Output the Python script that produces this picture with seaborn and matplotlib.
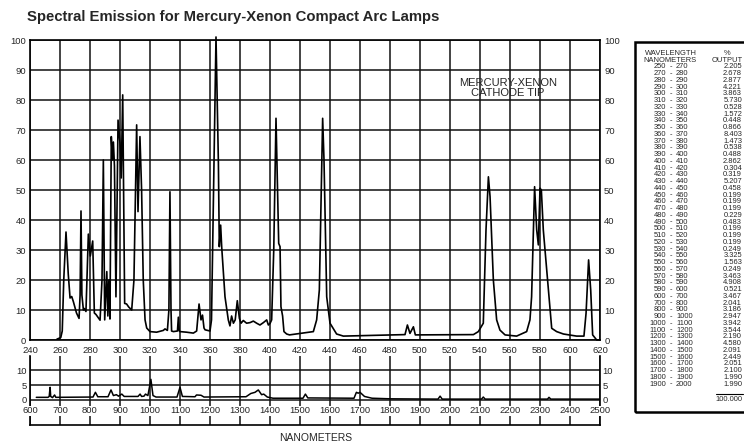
import matplotlib
matplotlib.use("Agg")
import matplotlib.pyplot as plt
from matplotlib.patches import Rectangle
from matplotlib.lines import Line2D
import seaborn as sns
import pandas as pd

# ---------------------------------------------------------------
# data
# ---------------------------------------------------------------
# upper panel, 240-620 nm, % relative output
uv_nm = [258, 260.5, 261.5, 262.5, 264, 265.5, 266.7, 267.8, 268.9, 271, 272.7,
         273.4, 274, 274.6, 275.6, 276.2, 277.3, 278.9, 280.2, 281.8, 282.9, 284,
         285, 286.7, 288, 288.9, 289.8, 291.2, 291.9, 292.6, 293.3, 294.2, 295,
         295.6, 296.3, 297.3, 298.7, 300, 300.8, 301.8, 303.1, 304.4, 305.8, 307.8,
         309.3, 311.1, 312, 313.3, 314.4, 315.5, 316.7, 317.8, 320, 324.4, 328.9,
         330, 331.6, 332.6, 333.3, 334, 334.4, 335.6, 338.3, 338.9, 339.5, 340,
         344.4, 348.9, 351.1, 352.7, 354, 355, 356, 356.7, 360, 361, 364, 365.6,
         366.2, 367.1, 367.8, 370, 372.2, 373.3, 374.4, 375.6, 376.8, 378.2, 379.6,
         380.7, 382.2, 384.4, 386.7, 388.9, 391.1, 393.3, 395.6, 397.8, 398.9, 400,
         401.1, 402.5, 404, 404.9, 405.8, 406.7, 407.3, 408.4, 409.3, 411.1, 413,
         428.9, 431.1, 432.9, 435.1, 436, 437.8, 440, 444.4, 448.9, 490, 491.6,
         493.3, 495.6, 496.9, 535.6, 538.9, 542.2, 544, 545.6, 546.7, 548.9, 551.1,
         553.3, 556.7, 564.4, 571.1, 573.3, 574.4, 576.4, 577.8, 578.9, 580, 580.9,
         582.2, 585.6, 587.8, 591.1, 595.6, 604.4, 609.3, 610.7, 612.4, 613.8,
         615.1, 617.8, 620]
uv_pct = [0.3, 0.8, 3, 20, 36, 22, 14, 14.5, 12.8, 9, 7.2,
          15, 43, 15, 10, 10.5, 9.5, 35.3, 28, 33, 9, 8.5,
          7.8, 6.6, 20, 60, 6.7, 22.8, 8, 20, 7, 67.8, 60,
          66, 58, 14.4, 73.3, 65.6, 54, 81.7, 12.2, 12, 11, 10,
          20, 71.7, 42.8, 67.8, 50, 20, 6.7, 4, 2.8, 2.6, 3.2,
          3.7, 3.2, 10, 49.4, 10, 3, 2.8, 3, 7.6, 3, 2.8,
          2.6, 2.3, 3.0, 12, 6.7, 8.3, 4, 3.4, 3, 6.7, 101, 58.9,
          31.1, 38.3, 31, 14.4, 6.7, 4.7, 8, 5.6, 6.7, 13.1, 7.2,
          5.6, 6.5, 5.6, 5.8, 6.3, 5.6, 5, 5.8, 6.7, 5, 5.5,
          6.7, 30, 73.9, 53.3, 32.2, 31.1, 11.1, 8, 2.8, 2, 1.7,
          2.8, 6.7, 16.7, 73.9, 60, 14.4, 5.6, 2, 1.3, 1.8, 5,
          2.2, 4.4, 1.7, 1.8, 2.8, 5.6, 36.7, 54.4, 47.8, 20, 6.7,
          3.3, 1.7, 1.3, 2.8, 6.7, 14.4, 51.1, 36.7, 31.7, 50.6, 50,
          36.7, 16.7, 3.9, 2.8, 2, 1.3, 1.3, 8.9, 26.7, 16.7,
          1.7, 0, 0]

# lower panel, 600-2500 nm
ir_nm = [621, 660, 664, 667, 669, 675, 682, 686, 810, 818, 826, 860, 870, 878,
         888, 895, 906, 914, 960, 967, 972, 980, 985, 993, 1003, 1010, 1020,
         1090, 1100, 1108, 1150, 1155, 1170, 1180, 1320, 1336, 1350, 1361, 1372,
         1379, 1391, 1410, 1510, 1518, 1526, 1680, 1688, 1694, 1700, 1715, 1740,
         1800, 1960, 1967, 1974, 2105, 2111, 2117, 2325, 2330, 2336, 2500]
ir_pct = [0.9, 0.9, 1.2, 4.3, 1.2, 0.8, 1.7, 0.9, 1.0, 2.6, 1.1, 1.1, 3.4, 1.5,
          1.8, 1.3, 2.0, 1.2, 1.2, 2.0, 1.2, 1.3, 2.0, 1.5, 7.0, 1.5, 1.0,
          1.0, 4.3, 1.2, 1.1, 1.7, 1.6, 1.0, 1.1, 2.2, 2.6, 3.4, 1.8,
          2.0, 1.0, 0.6, 0.6, 2.0, 0.7, 0.6, 2.6, 2.3, 2.6, 1.2, 0.6,
          0.4, 0.3, 1.3, 0.3, 0.3, 1.0, 0.3, 0.3, 0.9, 0.3, 0.3]

uv_ticks = [240, 260, 280, 300, 320, 340, 360, 380, 400, 420, 440, 460, 480,
            500, 520, 540, 560, 580, 600, 620]
ir_ticks = [600, 700, 800, 900, 1000, 1100, 1200, 1300, 1400, 1500, 1600, 1700,
            1800, 1900, 2000, 2100, 2200, 2300, 2400, 2500]

# table of % output per band
band_lo = [250, 270, 280, 290, 300, 310, 320, 330, 340, 350, 360, 370, 380, 390,
           400, 410, 420, 430, 440, 450, 460, 470, 480, 490, 500, 510, 520, 530,
           540, 550, 560, 570, 580, 590, 600, 700, 800, 900, 1000, 1100, 1200,
           1300, 1400, 1500, 1600, 1700, 1800, 1900]
band_hi = [270, 280, 290, 300, 310, 320, 330, 340, 350, 360, 370, 380, 390, 400,
           410, 420, 430, 440, 450, 460, 470, 480, 490, 500, 510, 520, 530, 540,
           550, 560, 570, 580, 590, 600, 700, 800, 900, 1000, 1100, 1200, 1300,
           1400, 1500, 1600, 1700, 1800, 1900, 2000]
band_out = ["2.205", "2.678", "2.877", "4.221", "3.863", "5.730", "0.528", "1.572",
            "0.448", "0.866", "8.403", "1.473", "0.538", "0.488", "2.862", "0.304",
            "0.319", "5.207", "0.458", "0.199", "0.199", "0.199", "0.229", "0.483",
            "0.199", "0.199", "0.199", "0.249", "3.325", "1.563", "0.249", "3.463",
            "4.908", "0.521", "3.467", "2.041", "3.186", "2.947", "3.942", "3.544",
            "2.190", "4.580", "2.091", "2.449", "2.051", "2.100", "1.990", "1.990"]
total_out = "100.000"

# ---------------------------------------------------------------
sns.set_style("white")
plt.rcParams['font.family'] = ['Liberation Sans', 'DejaVu Sans']

W, H = 744, 443
def fx(px):
    return px / W
def fy(py):
    return 1 - py / H

fig = plt.figure(figsize=(7.44, 4.43), dpi=100)

# upper panel
ax = fig.add_axes([fx(30), fy(340), fx(600) - fx(30), fy(40) - fy(340)])
uv = pd.DataFrame({'nm': uv_nm, 'pct': uv_pct})
sns.lineplot(data=uv, x='nm', y='pct', ax=ax, color='black', lw=1.2,
             estimator=None, sort=False, clip_on=False)
ax.set_xlim(240, 620)
ax.set_ylim(0, 100)
ax.set_xticks(uv_ticks)
ax.set_yticks(range(0, 101, 10))
ax.grid(True, color='#111111', lw=1.1)
ax.tick_params(length=0, labelsize=6.8)
ax.tick_params(axis='x', pad=4.5)
ax.tick_params(axis='y', labelright=True, pad=3)
ax.set_xlabel('')
ax.set_ylabel('')
for s in ax.spines.values():
    s.set_color('black')
    s.set_linewidth(1.2)
ax.text(558.7, 84, 'MERCURY-XENON\nCATHODE TIP', ha='center', va='center',
        fontsize=8, linespacing=1.0)

# lower panel
ax2 = fig.add_axes([fx(30), fy(425), fx(600) - fx(30), fy(356) - fy(425)])
ir = pd.DataFrame({'nm': ir_nm, 'pct': ir_pct})
sns.lineplot(data=ir, x='nm', y='pct', ax=ax2, color='black', lw=1.1,
             estimator=None, sort=False)
ax2.set_xlim(600, 2500)
ax2.set_ylim(-8.47, 14.9)
ax2.set_xticks(ir_ticks)
ax2.set_yticks([0, 5, 10])
ax2.grid(True, color='#111111', lw=1.1)
ax2.tick_params(length=0, labelsize=6.8, pad=2, labelbottom=False)
ax2.tick_params(axis='y', labelright=True)
ax2.set_xlabel('')
ax2.set_ylabel('')
ax2.spines['top'].set_visible(False)
for k in ['left', 'right', 'bottom']:
    ax2.spines[k].set_color('black')
    ax2.spines[k].set_linewidth(1.2)
for v in ir_ticks:
    ax2.text(v, -3.7, str(v), ha='center', va='center', fontsize=6.8, zorder=5,
             bbox=dict(fc='white', ec='none', pad=0.6))

# titles
fig.text(fx(27), fy(17), 'Spectral Emission for Mercury-Xenon Compact Arc Lamps',
         fontsize=10.7, fontweight='bold', ha='left', va='center')
fig.text(fx(316), fy(438), 'NANOMETERS', fontsize=7.5, ha='center', va='center')

# table box
tfs = 5.4
fig.patches.append(Rectangle((fx(635), fy(412)), fx(760) - fx(635), fy(42) - fy(412),
                             transform=fig.transFigure, fill=False, ec='black', lw=1.8))
fig.text(fx(671), fy(53.5), 'WAVELENGTH', fontsize=tfs, ha='center', va='center')
fig.text(fx(670), fy(60), 'NANOMETERS', fontsize=tfs, ha='center', va='center')
fig.text(fx(727), fy(53.5), '%', fontsize=tfs, ha='center', va='center')
fig.text(fx(727), fy(60), 'OUTPUT', fontsize=tfs, ha='center', va='center')
step = (384 - 67) / (len(band_lo) - 1)
for i, (lo, hi, out) in enumerate(zip(band_lo, band_hi, band_out)):
    y = fy(67 + i * step)
    fig.text(fx(666), y, str(lo), fontsize=tfs, ha='right', va='center')
    fig.text(fx(671), y, '-', fontsize=tfs, ha='center', va='center')
    fig.text(fx(676), y, str(hi), fontsize=tfs, ha='left', va='center')
    fig.text(fx(742), y, out, fontsize=tfs, ha='right', va='center')
fig.lines.append(Line2D([fx(716), fx(743)], [fy(394), fy(394)], transform=fig.transFigure,
                        color='black', lw=0.8))
fig.text(fx(742), fy(399.5), total_out, fontsize=tfs, ha='right', va='center')

fig.savefig('out.png', dpi=100, facecolor='white')
